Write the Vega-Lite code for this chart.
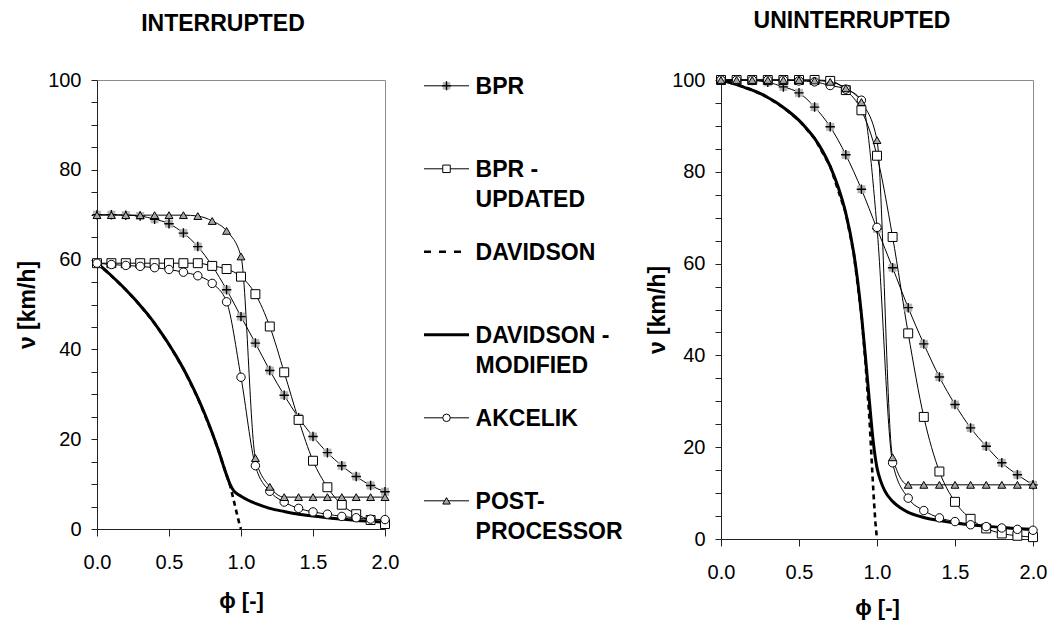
{
  "$schema": "https://vega.github.io/schema/vega-lite/v6.json",
  "background": "white",
  "padding": {"left": 16, "top": 9, "right": 5, "bottom": 5},
  "config": {
    "font": "Liberation Sans",
    "view": {"stroke": "#8c8c8c", "strokeWidth": 1},
    "axis": {"labelFont": "Liberation Sans", "labelFontSize": 20, "labelColor": "black", "titleFont": "Liberation Sans", "titleFontSize": 22, "titleFontWeight": "bold", "titleColor": "black", "domainColor": "#222", "tickColor": "#222", "grid": false},
    "title": {"font": "Liberation Sans", "fontSize": 23, "fontWeight": "bold", "color": "black"}
  },
  "datasets": {
    "m": [
      {"p":"I","s":"BPR","x":0,"v":70.0},{"p":"I","s":"BPR","x":0.1,"v":70.0},{"p":"I","s":"BPR","x":0.2,"v":69.9},{"p":"I","s":"BPR","x":0.3,"v":69.7},{"p":"I","s":"BPR","x":0.4,"v":69.0},{"p":"I","s":"BPR","x":0.5,"v":68.0},{"p":"I","s":"BPR","x":0.6,"v":65.9},{"p":"I","s":"BPR","x":0.7,"v":62.9},{"p":"I","s":"BPR","x":0.8,"v":58.6},{"p":"I","s":"BPR","x":0.9,"v":53.3},{"p":"I","s":"BPR","x":1.0,"v":47.3},{"p":"I","s":"BPR","x":1.1,"v":41.4},{"p":"I","s":"BPR","x":1.2,"v":35.3},{"p":"I","s":"BPR","x":1.3,"v":29.8},{"p":"I","s":"BPR","x":1.4,"v":24.8},{"p":"I","s":"BPR","x":1.5,"v":20.6},{"p":"I","s":"BPR","x":1.6,"v":17.0},{"p":"I","s":"BPR","x":1.7,"v":14.1},{"p":"I","s":"BPR","x":1.8,"v":11.7},{"p":"I","s":"BPR","x":1.9,"v":9.7},{"p":"I","s":"BPR","x":2.0,"v":8.3},
      {"p":"U","s":"BPR","x":0,"v":100},{"p":"U","s":"BPR","x":0.1,"v":100},{"p":"U","s":"BPR","x":0.2,"v":99.9},{"p":"U","s":"BPR","x":0.3,"v":99.5},{"p":"U","s":"BPR","x":0.4,"v":98.5},{"p":"U","s":"BPR","x":0.5,"v":97.2},{"p":"U","s":"BPR","x":0.6,"v":94.1},{"p":"U","s":"BPR","x":0.7,"v":89.8},{"p":"U","s":"BPR","x":0.8,"v":83.7},{"p":"U","s":"BPR","x":0.9,"v":76.2},{"p":"U","s":"BPR","x":1.0,"v":67.6},{"p":"U","s":"BPR","x":1.1,"v":59.1},{"p":"U","s":"BPR","x":1.2,"v":50.4},{"p":"U","s":"BPR","x":1.3,"v":42.5},{"p":"U","s":"BPR","x":1.4,"v":35.3},{"p":"U","s":"BPR","x":1.5,"v":29.3},{"p":"U","s":"BPR","x":1.6,"v":24.2},{"p":"U","s":"BPR","x":1.7,"v":20.2},{"p":"U","s":"BPR","x":1.8,"v":16.6},{"p":"U","s":"BPR","x":1.9,"v":14.0},{"p":"U","s":"BPR","x":2.0,"v":11.8},
      {"p":"I","s":"BPR-UPDATED","x":0,"v":59.2},{"p":"I","s":"BPR-UPDATED","x":0.1,"v":59.2},{"p":"I","s":"BPR-UPDATED","x":0.2,"v":59.2},{"p":"I","s":"BPR-UPDATED","x":0.3,"v":59.2},{"p":"I","s":"BPR-UPDATED","x":0.4,"v":59.2},{"p":"I","s":"BPR-UPDATED","x":0.5,"v":59.2},{"p":"I","s":"BPR-UPDATED","x":0.6,"v":59.2},{"p":"I","s":"BPR-UPDATED","x":0.7,"v":59.2},{"p":"I","s":"BPR-UPDATED","x":0.8,"v":58.6},{"p":"I","s":"BPR-UPDATED","x":0.9,"v":57.9},{"p":"I","s":"BPR-UPDATED","x":1.0,"v":56.2},{"p":"I","s":"BPR-UPDATED","x":1.1,"v":52.3},{"p":"I","s":"BPR-UPDATED","x":1.2,"v":45.1},{"p":"I","s":"BPR-UPDATED","x":1.3,"v":34.9},{"p":"I","s":"BPR-UPDATED","x":1.4,"v":24.3},{"p":"I","s":"BPR-UPDATED","x":1.5,"v":15.2},{"p":"I","s":"BPR-UPDATED","x":1.6,"v":9.3},{"p":"I","s":"BPR-UPDATED","x":1.7,"v":5.4},{"p":"I","s":"BPR-UPDATED","x":1.8,"v":3.3},{"p":"I","s":"BPR-UPDATED","x":1.9,"v":2.0},{"p":"I","s":"BPR-UPDATED","x":2.0,"v":1.1},
      {"p":"U","s":"BPR-UPDATED","x":0,"v":100},{"p":"U","s":"BPR-UPDATED","x":0.1,"v":100},{"p":"U","s":"BPR-UPDATED","x":0.2,"v":100},{"p":"U","s":"BPR-UPDATED","x":0.3,"v":100},{"p":"U","s":"BPR-UPDATED","x":0.4,"v":100},{"p":"U","s":"BPR-UPDATED","x":0.5,"v":100},{"p":"U","s":"BPR-UPDATED","x":0.6,"v":100},{"p":"U","s":"BPR-UPDATED","x":0.7,"v":99.8},{"p":"U","s":"BPR-UPDATED","x":0.8,"v":97.8},{"p":"U","s":"BPR-UPDATED","x":0.9,"v":93.4},{"p":"U","s":"BPR-UPDATED","x":1.0,"v":83.5},{"p":"U","s":"BPR-UPDATED","x":1.1,"v":65.8},{"p":"U","s":"BPR-UPDATED","x":1.2,"v":44.8},{"p":"U","s":"BPR-UPDATED","x":1.3,"v":26.6},{"p":"U","s":"BPR-UPDATED","x":1.4,"v":14.7},{"p":"U","s":"BPR-UPDATED","x":1.5,"v":8.1},{"p":"U","s":"BPR-UPDATED","x":1.6,"v":4.4},{"p":"U","s":"BPR-UPDATED","x":1.7,"v":2.3},{"p":"U","s":"BPR-UPDATED","x":1.8,"v":1.2},{"p":"U","s":"BPR-UPDATED","x":1.9,"v":0.7},{"p":"U","s":"BPR-UPDATED","x":2.0,"v":0.4},
      {"p":"I","s":"AKCELIK","x":0,"v":59.2},{"p":"I","s":"AKCELIK","x":0.1,"v":58.9},{"p":"I","s":"AKCELIK","x":0.2,"v":58.7},{"p":"I","s":"AKCELIK","x":0.3,"v":58.5},{"p":"I","s":"AKCELIK","x":0.4,"v":58.2},{"p":"I","s":"AKCELIK","x":0.5,"v":57.8},{"p":"I","s":"AKCELIK","x":0.6,"v":57.2},{"p":"I","s":"AKCELIK","x":0.7,"v":56.4},{"p":"I","s":"AKCELIK","x":0.8,"v":54.7},{"p":"I","s":"AKCELIK","x":0.9,"v":50.6},{"p":"I","s":"AKCELIK","x":1.0,"v":33.8},{"p":"I","s":"AKCELIK","x":1.1,"v":14.1},{"p":"I","s":"AKCELIK","x":1.2,"v":8.4},{"p":"I","s":"AKCELIK","x":1.3,"v":6.0},{"p":"I","s":"AKCELIK","x":1.4,"v":4.6},{"p":"I","s":"AKCELIK","x":1.5,"v":3.8},{"p":"I","s":"AKCELIK","x":1.6,"v":3.3},{"p":"I","s":"AKCELIK","x":1.7,"v":2.8},{"p":"I","s":"AKCELIK","x":1.8,"v":2.5},{"p":"I","s":"AKCELIK","x":1.9,"v":2.2},{"p":"I","s":"AKCELIK","x":2.0,"v":2.1},
      {"p":"U","s":"AKCELIK","x":0,"v":100},{"p":"U","s":"AKCELIK","x":0.1,"v":100},{"p":"U","s":"AKCELIK","x":0.2,"v":100},{"p":"U","s":"AKCELIK","x":0.3,"v":100},{"p":"U","s":"AKCELIK","x":0.4,"v":100},{"p":"U","s":"AKCELIK","x":0.5,"v":99.8},{"p":"U","s":"AKCELIK","x":0.6,"v":99.6},{"p":"U","s":"AKCELIK","x":0.7,"v":98.8},{"p":"U","s":"AKCELIK","x":0.8,"v":98.0},{"p":"U","s":"AKCELIK","x":0.9,"v":95.6},{"p":"U","s":"AKCELIK","x":1.0,"v":67.9},{"p":"U","s":"AKCELIK","x":1.1,"v":16.6},{"p":"U","s":"AKCELIK","x":1.2,"v":8.9},{"p":"U","s":"AKCELIK","x":1.3,"v":6.2},{"p":"U","s":"AKCELIK","x":1.4,"v":4.6},{"p":"U","s":"AKCELIK","x":1.5,"v":3.8},{"p":"U","s":"AKCELIK","x":1.6,"v":3.1},{"p":"U","s":"AKCELIK","x":1.7,"v":2.7},{"p":"U","s":"AKCELIK","x":1.8,"v":2.4},{"p":"U","s":"AKCELIK","x":1.9,"v":2.1},{"p":"U","s":"AKCELIK","x":2.0,"v":1.9},
      {"p":"I","s":"POST-PROCESSOR","x":0,"v":69.9},{"p":"I","s":"POST-PROCESSOR","x":0.1,"v":69.9},{"p":"I","s":"POST-PROCESSOR","x":0.2,"v":69.9},{"p":"I","s":"POST-PROCESSOR","x":0.3,"v":69.9},{"p":"I","s":"POST-PROCESSOR","x":0.4,"v":69.9},{"p":"I","s":"POST-PROCESSOR","x":0.5,"v":69.9},{"p":"I","s":"POST-PROCESSOR","x":0.6,"v":69.9},{"p":"I","s":"POST-PROCESSOR","x":0.7,"v":69.7},{"p":"I","s":"POST-PROCESSOR","x":0.8,"v":68.6},{"p":"I","s":"POST-PROCESSOR","x":0.9,"v":66.4},{"p":"I","s":"POST-PROCESSOR","x":1.0,"v":60.7},{"p":"I","s":"POST-PROCESSOR","x":1.1,"v":15.8},{"p":"I","s":"POST-PROCESSOR","x":1.2,"v":9.4},{"p":"I","s":"POST-PROCESSOR","x":1.3,"v":7.1},{"p":"I","s":"POST-PROCESSOR","x":1.4,"v":7.1},{"p":"I","s":"POST-PROCESSOR","x":1.5,"v":7.1},{"p":"I","s":"POST-PROCESSOR","x":1.6,"v":7.1},{"p":"I","s":"POST-PROCESSOR","x":1.7,"v":7.1},{"p":"I","s":"POST-PROCESSOR","x":1.8,"v":7.1},{"p":"I","s":"POST-PROCESSOR","x":1.9,"v":7.1},{"p":"I","s":"POST-PROCESSOR","x":2.0,"v":7.1},
      {"p":"U","s":"POST-PROCESSOR","x":0,"v":100},{"p":"U","s":"POST-PROCESSOR","x":0.1,"v":100},{"p":"U","s":"POST-PROCESSOR","x":0.2,"v":100},{"p":"U","s":"POST-PROCESSOR","x":0.3,"v":100},{"p":"U","s":"POST-PROCESSOR","x":0.4,"v":100},{"p":"U","s":"POST-PROCESSOR","x":0.5,"v":100},{"p":"U","s":"POST-PROCESSOR","x":0.6,"v":99.9},{"p":"U","s":"POST-PROCESSOR","x":0.7,"v":99.6},{"p":"U","s":"POST-PROCESSOR","x":0.8,"v":98.2},{"p":"U","s":"POST-PROCESSOR","x":0.9,"v":95.2},{"p":"U","s":"POST-PROCESSOR","x":1.0,"v":86.9},{"p":"U","s":"POST-PROCESSOR","x":1.1,"v":17.8},{"p":"U","s":"POST-PROCESSOR","x":1.2,"v":11.8},{"p":"U","s":"POST-PROCESSOR","x":1.3,"v":11.8},{"p":"U","s":"POST-PROCESSOR","x":1.4,"v":11.8},{"p":"U","s":"POST-PROCESSOR","x":1.5,"v":11.8},{"p":"U","s":"POST-PROCESSOR","x":1.6,"v":11.8},{"p":"U","s":"POST-PROCESSOR","x":1.7,"v":11.8},{"p":"U","s":"POST-PROCESSOR","x":1.8,"v":11.8},{"p":"U","s":"POST-PROCESSOR","x":1.9,"v":11.8},{"p":"U","s":"POST-PROCESSOR","x":2.0,"v":11.8}
    ],
    "dav": [
      {"p":"I","s":"DM","x":0,"v":59.2},{"p":"I","s":"DM","x":0.05,"v":57.9},{"p":"I","s":"DM","x":0.1,"v":56.4},{"p":"I","s":"DM","x":0.15,"v":54.9},{"p":"I","s":"DM","x":0.2,"v":53.3},{"p":"I","s":"DM","x":0.25,"v":51.6},{"p":"I","s":"DM","x":0.3,"v":49.8},{"p":"I","s":"DM","x":0.35,"v":47.9},{"p":"I","s":"DM","x":0.4,"v":45.8},{"p":"I","s":"DM","x":0.45,"v":43.5},{"p":"I","s":"DM","x":0.5,"v":41.1},{"p":"I","s":"DM","x":0.55,"v":38.5},{"p":"I","s":"DM","x":0.6,"v":35.7},{"p":"I","s":"DM","x":0.65,"v":32.6},{"p":"I","s":"DM","x":0.7,"v":29.2},{"p":"I","s":"DM","x":0.75,"v":25.5},{"p":"I","s":"DM","x":0.8,"v":21.4},{"p":"I","s":"DM","x":0.85,"v":16.9},{"p":"I","s":"DM","x":0.875,"v":14.4},{"p":"I","s":"DM","x":0.9,"v":12.0},{"p":"I","s":"DM","x":0.925,"v":9.9},{"p":"I","s":"DM","x":0.95,"v":8.5},{"p":"I","s":"DM","x":0.975,"v":7.8},{"p":"I","s":"DM","x":1.0,"v":7.3},{"p":"I","s":"DM","x":1.05,"v":6.4},{"p":"I","s":"DM","x":1.1,"v":5.7},{"p":"I","s":"DM","x":1.2,"v":4.6},{"p":"I","s":"DM","x":1.3,"v":3.9},{"p":"I","s":"DM","x":1.4,"v":3.3},{"p":"I","s":"DM","x":1.5,"v":2.9},{"p":"I","s":"DM","x":1.6,"v":2.5},{"p":"I","s":"DM","x":1.7,"v":2.2},{"p":"I","s":"DM","x":1.8,"v":1.9},{"p":"I","s":"DM","x":1.9,"v":1.7},{"p":"I","s":"DM","x":2.0,"v":1.5},
      {"p":"I","s":"D","x":0,"v":59.2},{"p":"I","s":"D","x":0.1,"v":56.4},{"p":"I","s":"D","x":0.2,"v":53.3},{"p":"I","s":"D","x":0.3,"v":49.8},{"p":"I","s":"D","x":0.4,"v":45.8},{"p":"I","s":"D","x":0.5,"v":41.1},{"p":"I","s":"D","x":0.6,"v":35.7},{"p":"I","s":"D","x":0.7,"v":29.2},{"p":"I","s":"D","x":0.8,"v":21.4},{"p":"I","s":"D","x":0.85,"v":16.9},{"p":"I","s":"D","x":0.875,"v":14.4},{"p":"I","s":"D","x":0.9,"v":12.0},{"p":"I","s":"D","x":0.925,"v":9.6},{"p":"I","s":"D","x":0.95,"v":6.3},{"p":"I","s":"D","x":0.97,"v":3.6},{"p":"I","s":"D","x":0.99,"v":1.0},{"p":"I","s":"D","x":1.0,"v":0},
      {"p":"U","s":"DM","x":0,"v":100},{"p":"U","s":"DM","x":0.05,"v":99.5},{"p":"U","s":"DM","x":0.1,"v":99.0},{"p":"U","s":"DM","x":0.15,"v":98.4},{"p":"U","s":"DM","x":0.2,"v":97.8},{"p":"U","s":"DM","x":0.25,"v":97.1},{"p":"U","s":"DM","x":0.3,"v":96.2},{"p":"U","s":"DM","x":0.35,"v":95.2},{"p":"U","s":"DM","x":0.4,"v":94.0},{"p":"U","s":"DM","x":0.45,"v":92.7},{"p":"U","s":"DM","x":0.5,"v":91.2},{"p":"U","s":"DM","x":0.55,"v":89.4},{"p":"U","s":"DM","x":0.6,"v":87.3},{"p":"U","s":"DM","x":0.65,"v":84.6},{"p":"U","s":"DM","x":0.7,"v":81.2},{"p":"U","s":"DM","x":0.75,"v":76.8},{"p":"U","s":"DM","x":0.8,"v":71.0},{"p":"U","s":"DM","x":0.85,"v":62.5},{"p":"U","s":"DM","x":0.875,"v":56.5},{"p":"U","s":"DM","x":0.9,"v":49.0},{"p":"U","s":"DM","x":0.925,"v":40.0},{"p":"U","s":"DM","x":0.95,"v":30.5},{"p":"U","s":"DM","x":0.975,"v":21.5},{"p":"U","s":"DM","x":1.0,"v":15.5},{"p":"U","s":"DM","x":1.025,"v":12.5},{"p":"U","s":"DM","x":1.05,"v":10.5},{"p":"U","s":"DM","x":1.1,"v":8.2},{"p":"U","s":"DM","x":1.15,"v":6.8},{"p":"U","s":"DM","x":1.2,"v":5.8},{"p":"U","s":"DM","x":1.3,"v":4.7},{"p":"U","s":"DM","x":1.4,"v":4.0},{"p":"U","s":"DM","x":1.5,"v":3.5},{"p":"U","s":"DM","x":1.6,"v":3.1},{"p":"U","s":"DM","x":1.7,"v":2.8},{"p":"U","s":"DM","x":1.8,"v":2.5},{"p":"U","s":"DM","x":1.9,"v":2.3},{"p":"U","s":"DM","x":2.0,"v":2.1},
      {"p":"U","s":"D","x":0,"v":100},{"p":"U","s":"D","x":0.1,"v":99.0},{"p":"U","s":"D","x":0.2,"v":97.8},{"p":"U","s":"D","x":0.3,"v":96.2},{"p":"U","s":"D","x":0.4,"v":94.0},{"p":"U","s":"D","x":0.5,"v":91.2},{"p":"U","s":"D","x":0.6,"v":87.3},{"p":"U","s":"D","x":0.7,"v":81.2},{"p":"U","s":"D","x":0.8,"v":71.0},{"p":"U","s":"D","x":0.85,"v":62.5},{"p":"U","s":"D","x":0.9,"v":49.0},{"p":"U","s":"D","x":0.925,"v":39.0},{"p":"U","s":"D","x":0.95,"v":27.0},{"p":"U","s":"D","x":0.96,"v":21.0},{"p":"U","s":"D","x":0.97,"v":14.5},{"p":"U","s":"D","x":0.98,"v":8.5},{"p":"U","s":"D","x":0.99,"v":3.5},{"p":"U","s":"D","x":1.0,"v":0}
    ],
    "yt": [{"v":20},{"v":40},{"v":60},{"v":80},{"v":100}],
    "xt": [{"x":0.5},{"x":1.0},{"x":1.5},{"x":2.0}],
    "leg": [
      {"row":0,"s":"BPR","label":"\u00a0BPR"},
      {"row":1,"s":"BPR-UPDATED","label":"\u00a0BPR -\nUPDATED"},
      {"row":2,"s":"DAVIDSON","label":"\u00a0DAVIDSON"},
      {"row":3,"s":"DAVIDSON-MODIFIED","label":"\u00a0DAVIDSON -\nMODIFIED"},
      {"row":4,"s":"AKCELIK","label":"\u00a0AKCELIK"},
      {"row":5,"s":"POST-PROCESSOR","label":"\u00a0POST-\nPROCESSOR"}
    ]
  },
  "bounds": "flush",
  "spacing": 39,
  "hconcat": [
    {
      "width": 288,
      "height": 449,
      "title": {"text": "INTERRUPTED", "frame": "group", "dx": -18, "offset": 34},
      "encoding": {
        "x": {"field": "x", "type": "quantitative", "scale": {"domain": [0, 2], "nice": false, "zero": false},
              "axis": {"title": "ϕ [-]", "values": [0, 0.5, 1, 1.5, 2], "format": ".1f", "tickSize": 7, "labelPadding": 16, "titlePadding": 18, "labelFlush": false}},
        "y": {"field": "v", "type": "quantitative", "scale": {"domain": [0, 100], "nice": false},
              "axis": {"title": "ν [km/h]", "titleFontSize": 23, "values": [0,5,10,15,20,25,30,35,40,45,50,55,60,65,70,75,80,85,90,95,100], "labelExpr": "datum.value % 20 === 0 ? datum.label : ''", "tickSize": 6, "labelPadding": 10, "titlePadding": 8}}
      },
      "layer": [
        {"data": {"name": "yt"}, "mark": {"type": "rule", "color": "#222", "strokeWidth": 1},
         "encoding": {"x": {"datum": 0}, "x2": {"datum": 0.042}}},
        {"data": {"name": "dav"}, "transform": [{"filter": "datum.p === 'I' && datum.s === 'D'"}],
         "mark": {"type": "line", "color": "black", "strokeWidth": 2.6, "strokeDash": [5, 4]}},
        {"data": {"name": "dav"}, "transform": [{"filter": "datum.p === 'I' && datum.s === 'DM'"}],
         "mark": {"type": "line", "color": "black", "strokeWidth": 3, "interpolate": "monotone"}},
        {"data": {"name": "m"}, "transform": [{"filter": "datum.p === 'I'"}],
         "mark": {"type": "line", "color": "black", "strokeWidth": 1, "interpolate": "monotone"},
         "encoding": {"detail": {"field": "s"}}},
        {"data": {"name": "m"}, "transform": [{"filter": "datum.p === 'I' && datum.s === 'BPR'"}],
         "mark": {"type": "point", "shape": "square", "filled": true, "color": "#b3b3b3", "size": 64, "strokeWidth": 0, "opacity": 1}},
        {"data": {"name": "m"}, "transform": [{"filter": "datum.p === 'I' && datum.s === 'BPR'"}],
         "mark": {"type": "point", "shape": "M-1,0H1M0,-1V1", "filled": false, "color": "black", "strokeWidth": 1.4, "size": 90, "opacity": 1}},
        {"data": {"name": "m"}, "transform": [{"filter": "datum.p === 'I' && datum.s !== 'BPR'"}],
         "mark": {"type": "point", "filled": true, "stroke": "black", "strokeWidth": 1, "opacity": 1},
         "encoding": {
           "shape": {"field": "s", "type": "nominal", "scale": {"domain": ["BPR-UPDATED", "AKCELIK", "POST-PROCESSOR"], "range": ["square", "circle", "triangle-up"]}, "legend": null},
           "fill": {"field": "s", "type": "nominal", "scale": {"domain": ["BPR-UPDATED", "AKCELIK", "POST-PROCESSOR"], "range": ["white", "white", "#a6a6a6"]}, "legend": null},
           "size": {"field": "s", "type": "nominal", "scale": {"domain": ["BPR-UPDATED", "AKCELIK", "POST-PROCESSOR"], "range": [80, 62, 80]}, "legend": null}
         }}
      ]
    },
    {
      "width": 258,
      "height": 459,
      "view": {"stroke": null},
      "data": {"name": "leg"},
      "encoding": {
        "y": {"field": "row", "type": "quantitative", "scale": {"domain": [-0.07, 5.46], "reverse": true}, "axis": null}
      },
      "layer": [
        {"transform": [{"filter": {"field": "s", "oneOf": ["BPR", "BPR-UPDATED", "AKCELIK", "POST-PROCESSOR"]}}],
         "mark": {"type": "rule", "color": "black", "strokeWidth": 1},
         "encoding": {"x": {"datum": 0, "type": "quantitative", "scale": {"domain": [0, 5.16]}, "axis": null}, "x2": {"datum": 0.96}}},
        {"transform": [{"filter": "datum.s === 'DAVIDSON'"}],
         "mark": {"type": "rule", "color": "black", "strokeWidth": 2.6, "strokeDash": [7, 8]},
         "encoding": {"x": {"datum": 0, "type": "quantitative"}, "x2": {"datum": 0.9}}},
        {"transform": [{"filter": "datum.s === 'DAVIDSON-MODIFIED'"}],
         "mark": {"type": "rule", "color": "black", "strokeWidth": 3},
         "encoding": {"x": {"datum": 0, "type": "quantitative"}, "x2": {"datum": 0.96}}},
        {"transform": [{"filter": "datum.s === 'BPR'"}],
         "mark": {"type": "point", "shape": "square", "filled": true, "color": "#b3b3b3", "size": 56, "strokeWidth": 0, "opacity": 1},
         "encoding": {"x": {"datum": 0.48, "type": "quantitative"}}},
        {"transform": [{"filter": "datum.s === 'BPR'"}],
         "mark": {"type": "point", "shape": "M-1,0H1M0,-1V1", "filled": false, "color": "black", "strokeWidth": 1.4, "size": 80, "opacity": 1},
         "encoding": {"x": {"datum": 0.48, "type": "quantitative"}}},
        {"transform": [{"filter": {"field": "s", "oneOf": ["BPR-UPDATED", "AKCELIK", "POST-PROCESSOR"]}}],
         "mark": {"type": "point", "filled": true, "stroke": "black", "strokeWidth": 1, "opacity": 1, "size": 56},
         "encoding": {
           "x": {"datum": 0.48, "type": "quantitative"},
           "shape": {"field": "s", "type": "nominal", "scale": {"domain": ["BPR-UPDATED", "AKCELIK", "POST-PROCESSOR"], "range": ["square", "circle", "triangle-up"]}, "legend": null},
           "fill": {"field": "s", "type": "nominal", "scale": {"domain": ["BPR-UPDATED", "AKCELIK", "POST-PROCESSOR"], "range": ["white", "white", "#a6a6a6"]}, "legend": null}
         }},
        {"mark": {"type": "text", "align": "left", "baseline": "alphabetic", "dy": 8, "fontSize": 23, "fontWeight": "bold", "lineBreak": "\n", "lineHeight": 30, "font": "Liberation Sans", "color": "black"},
         "encoding": {"x": {"datum": 1.1, "type": "quantitative"}, "text": {"field": "label"}}}
      ]
    },
    {
      "width": 312,
      "height": 459,
      "title": {"text": "UNINTERRUPTED", "frame": "group", "dx": -25, "offset": 37},
      "encoding": {
        "x": {"field": "x", "type": "quantitative", "scale": {"domain": [0, 2], "nice": false, "zero": false},
              "axis": {"title": "ϕ [-]", "values": [0, 0.5, 1, 1.5, 2], "format": ".1f", "tickSize": 7, "labelPadding": 16, "titlePadding": 15, "labelFlush": false}},
        "y": {"field": "v", "type": "quantitative", "scale": {"domain": [0, 100], "nice": false},
              "axis": {"title": "ν [km/h]", "titleFontSize": 23, "values": [0,5,10,15,20,25,30,35,40,45,50,55,60,65,70,75,80,85,90,95,100], "labelExpr": "datum.value % 20 === 0 ? datum.label : ''", "tickSize": 6, "labelPadding": 10, "titlePadding": 2}}
      },
      "layer": [
        {"data": {"name": "yt"}, "mark": {"type": "rule", "color": "#222", "strokeWidth": 1},
         "encoding": {"x": {"datum": 0}, "x2": {"datum": 0.038}}},
        {"data": {"name": "xt"}, "mark": {"type": "rule", "color": "#222", "strokeWidth": 1},
         "encoding": {"y": {"datum": 0}, "y2": {"datum": 1.1}}},
        {"data": {"name": "dav"}, "transform": [{"filter": "datum.p === 'U' && datum.s === 'D'"}],
         "mark": {"type": "line", "color": "black", "strokeWidth": 2.6, "strokeDash": [5, 4]}},
        {"data": {"name": "dav"}, "transform": [{"filter": "datum.p === 'U' && datum.s === 'DM'"}],
         "mark": {"type": "line", "color": "black", "strokeWidth": 3, "interpolate": "monotone"}},
        {"data": {"name": "m"}, "transform": [{"filter": "datum.p === 'U'"}],
         "mark": {"type": "line", "color": "black", "strokeWidth": 1, "interpolate": "monotone"},
         "encoding": {"detail": {"field": "s"}}},
        {"data": {"name": "m"}, "transform": [{"filter": "datum.p === 'U' && datum.s === 'BPR'"}],
         "mark": {"type": "point", "shape": "square", "filled": true, "color": "#b3b3b3", "size": 64, "strokeWidth": 0, "opacity": 1}},
        {"data": {"name": "m"}, "transform": [{"filter": "datum.p === 'U' && datum.s === 'BPR'"}],
         "mark": {"type": "point", "shape": "M-1,0H1M0,-1V1", "filled": false, "color": "black", "strokeWidth": 1.4, "size": 90, "opacity": 1}},
        {"data": {"name": "m"}, "transform": [{"filter": "datum.p === 'U' && datum.s !== 'BPR'"}],
         "mark": {"type": "point", "filled": true, "stroke": "black", "strokeWidth": 1, "opacity": 1},
         "encoding": {
           "shape": {"field": "s", "type": "nominal", "scale": {"domain": ["BPR-UPDATED", "AKCELIK", "POST-PROCESSOR"], "range": ["square", "circle", "triangle-up"]}, "legend": null},
           "fill": {"field": "s", "type": "nominal", "scale": {"domain": ["BPR-UPDATED", "AKCELIK", "POST-PROCESSOR"], "range": ["white", "white", "#a6a6a6"]}, "legend": null},
           "size": {"field": "s", "type": "nominal", "scale": {"domain": ["BPR-UPDATED", "AKCELIK", "POST-PROCESSOR"], "range": [80, 62, 80]}, "legend": null}
         }}
      ]
    }
  ]
}
